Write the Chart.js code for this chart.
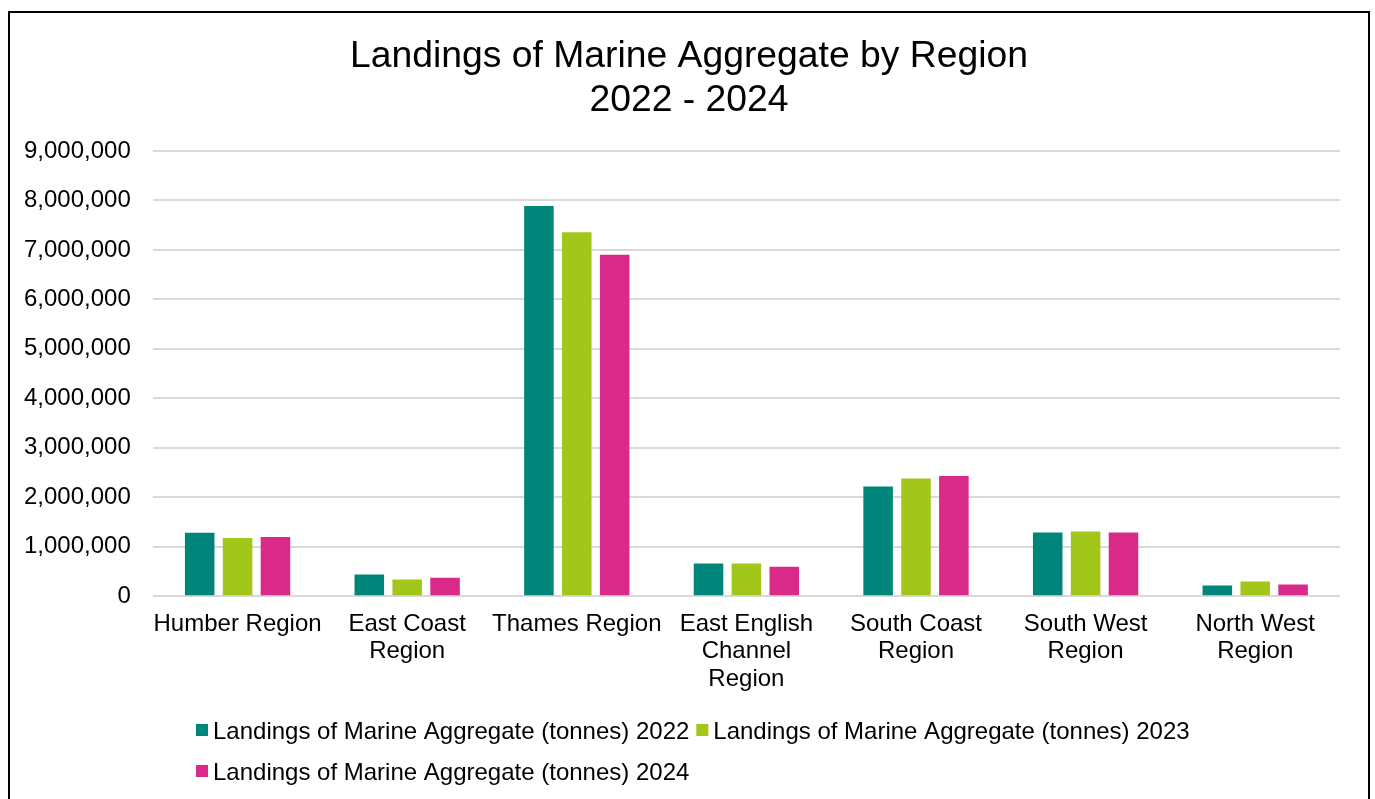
<!DOCTYPE html>
<html>
<head>
<meta charset="utf-8">
<title>Landings of Marine Aggregate by Region</title>
<script src="https://cdn.jsdelivr.net/npm/chart.js@4.4.1/dist/chart.umd.min.js"></script>
<style>
  html, body { margin: 0; padding: 0; background: #fff; }
  #wrap { width: 1375px; height: 799px; }
</style>
</head>
<body>
<div id="wrap"><canvas id="RegionChart" width="1375" height="799"></canvas></div>
<script>
(function () {
  "use strict";

  // Data
  const regions = [
    'Humber Region',
    ['East Coast', 'Region'],
    'Thames Region',
    ['East English', 'Channel', 'Region'],
    ['South Coast', 'Region'],
    ['South West', 'Region'],
    ['North West', 'Region']
  ];
  const landings2022 = [1284000, 439000, 7890000, 662000, 2220000, 1290000, 216000];
  const landings2023 = [1176000, 338000, 7357000, 662000, 2380000, 1310000, 297000];
  const landings2024 = [1196000, 372000, 6900000, 595000, 2430000, 1290000, 236000];
  const seriesLabel = 'Landings of Marine Aggregate (tonnes)';
  const years = ['2022', '2023', '2024'];
  const titleLines = ['Landings of Marine Aggregate by Region', '2022 - 2024'];

  // Colors
  const teal  = '#00857B';
  const lime  = '#A3C61A';
  const pink  = '#D92A8A';
  const grid  = '#D9D9D9';
  const ink   = '#000000';
  const family = '"Liberation Sans", Arial, Helvetica, sans-serif';

  // Outer frame of the chart
  const FRAME_LEFT = 9, FRAME_RIGHT = 1369;
  const frame = {
    id: 'frame',
    afterLayout(chart) {
      // centre the title on the frame rather than on the padded box
      if (chart.titleBlock) {
        chart.titleBlock.left = FRAME_LEFT;
        chart.titleBlock.right = FRAME_RIGHT;
      }
    },
    beforeDraw(chart) {
      const ctx = chart.ctx;
      ctx.save();
      ctx.fillStyle = '#fff';
      ctx.fillRect(0, 0, chart.width, chart.height);
      ctx.strokeStyle = '#000';
      ctx.lineWidth = 2;
      ctx.strokeRect(FRAME_LEFT, 12, FRAME_RIGHT - FRAME_LEFT, 820);
      ctx.restore();
    }
  };

  // Legend: rows wrap, block centred, rows left aligned
  const blockLegend = {
    id: 'blockLegend',
    afterDraw(chart) {
      const ctx = chart.ctx;
      const box = 12, gapText = 5, gapItem = 7, rowH = 41;
      ctx.save();
      ctx.font = '24px ' + family;
      const maxW = chart.width - 60;
      const items = chart.data.datasets.map(ds => ({
        text: ds.label,
        color: ds.backgroundColor,
        w: box + gapText + ctx.measureText(ds.label).width
      }));
      const rows = [[]];
      const rowW = [0];
      items.forEach(it => {
        const r = rows.length - 1;
        const add = (rows[r].length ? gapItem : 0) + it.w;
        if (rows[r].length && rowW[r] + add > maxW) {
          rows.push([it]);
          rowW.push(it.w);
        } else {
          rows[r].push(it);
          rowW[r] += add;
        }
      });
      const blockW = Math.max.apply(null, rowW);
      const x0 = Math.round((chart.width - blockW) / 2) + 5;
      let y = chart.height - 68;
      ctx.textBaseline = 'middle';
      ctx.textAlign = 'left';
      rows.forEach(row => {
        let x = x0;
        row.forEach(it => {
          ctx.fillStyle = it.color;
          ctx.fillRect(x, y - 7, box, box);
          ctx.fillStyle = ink;
          ctx.fillText(it.text, x + box + gapText, y + 1);
          x += it.w + gapItem;
        });
        y += rowH;
      });
      ctx.restore();
    }
  };

  const canvas = document.getElementById('RegionChart');
  const ctx = canvas.getContext('2d');

  new Chart(ctx, {
    type: 'bar',
    data: {
      labels: regions,
      datasets: [
        { label: seriesLabel + ' ' + years[0], data: landings2022, backgroundColor: teal },
        { label: seriesLabel + ' ' + years[1], data: landings2023, backgroundColor: lime },
        { label: seriesLabel + ' ' + years[2], data: landings2024, backgroundColor: pink }
      ]
    },
    options: {
      responsive: false,
      devicePixelRatio: 1,
      animation: false,
      categoryPercentage: 0.67,
      barPercentage: 0.78,
      layout: {
        padding: { top: 12, left: 2, right: 35, bottom: 92 }
      },
      scales: {
        x: {
          grid: { display: false, drawTicks: false },
          border: { display: false },
          ticks: {
            color: ink,
            padding: 14,
            maxRotation: 0,
            autoSkip: false,
            font: { family: family, size: 24, lineHeight: 1.15 }
          }
        },
        y: {
          min: 0,
          max: 9000000,
          grid: { color: grid, lineWidth: 2, drawTicks: false },
          border: { display: false },
          ticks: {
            stepSize: 1000000,
            color: ink,
            padding: 22,
            font: { family: family, size: 24 },
            callback: v => Number(v).toLocaleString('en-US')
          }
        }
      },
      plugins: {
        legend: { display: false },
        tooltip: { enabled: false },
        title: {
          display: true,
          text: titleLines,
          color: ink,
          font: { family: family, size: 37.3, weight: 'normal', lineHeight: 1.166 },
          padding: { top: 23, bottom: 29 }
        }
      }
    },
    plugins: [frame, blockLegend]
  });
})();
</script>
</body>
</html>
